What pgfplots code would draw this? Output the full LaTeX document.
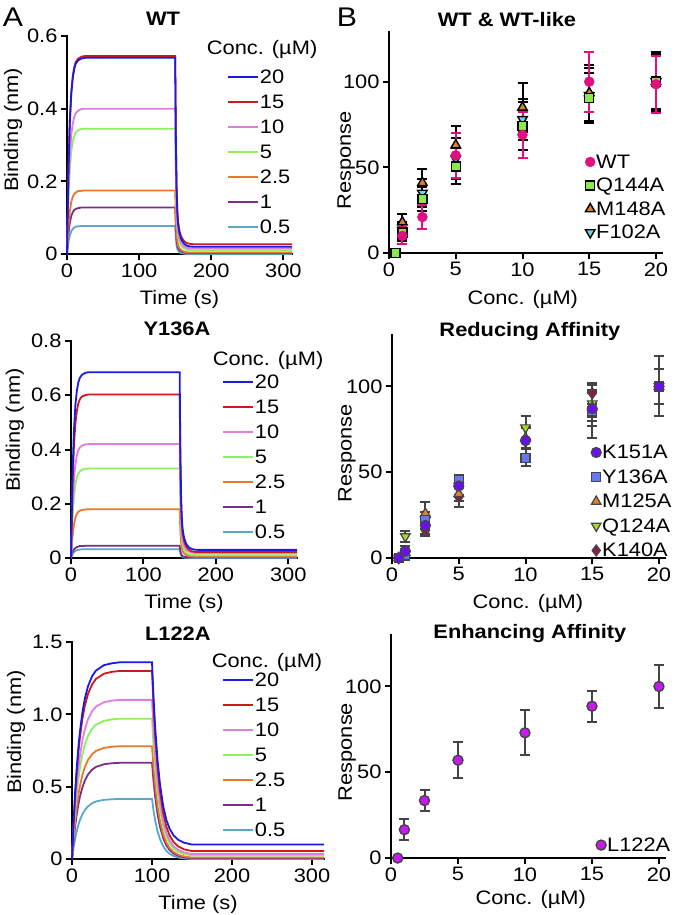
\documentclass[border=0pt]{standalone}
\usepackage{pgfplots}
\pgfplotsset{compat=1.18}
\usepackage{pgfplotstable}
\usepackage{fontspec}
\setmainfont{Liberation Sans}[FakeStretch=1.12]
\newcommand{\fs}{\fontsize{19.5}{22}\selectfont}

\definecolor{c20}{HTML}{1A1AE6}
\definecolor{c15}{HTML}{CC1A1A}
\definecolor{c10}{HTML}{E07EE0}
\definecolor{c5}{HTML}{8CF05A}
\definecolor{c25}{HTML}{E8782A}
\definecolor{c1}{HTML}{7A2E8C}
\definecolor{c05}{HTML}{5AA8C8}
\definecolor{wt}{HTML}{E0107E}
\definecolor{q144}{HTML}{8EE84A}
\definecolor{m148}{HTML}{D4822E}
\definecolor{f102}{HTML}{6AD8E8}
\definecolor{k151}{HTML}{6A10F0}
\definecolor{y136}{HTML}{6878F4}
\definecolor{m125}{HTML}{E0842E}
\definecolor{q124}{HTML}{A8D82A}
\definecolor{k140}{HTML}{8A1E4E}
\definecolor{l122}{HTML}{C81AF0}
\definecolor{eg}{HTML}{444444}

\pgfplotstableread{
t c20 c15 c10 c5 c25 c1 c05
0 0 0 0 0 0 0 0
2 0.235 0.237 0.174 0.150 0.076 0.056 0.033
4 0.367 0.371 0.272 0.235 0.119 0.087 0.052
6 0.443 0.447 0.328 0.283 0.144 0.105 0.063
8 0.485 0.489 0.359 0.310 0.157 0.115 0.069
10 0.509 0.514 0.377 0.325 0.165 0.121 0.073
12 0.523 0.528 0.387 0.334 0.169 0.124 0.075
15 0.532 0.537 0.394 0.340 0.173 0.126 0.076
20 0.538 0.543 0.399 0.344 0.174 0.128 0.077
25 0.540 0.545 0.400 0.345 0.175 0.128 0.077
150 0.540 0.545 0.400 0.345 0.175 0.128 0.077
151 0.306 0.312 0.227 0.194 0.098 0.071 0.042
152 0.176 0.182 0.131 0.110 0.055 0.040 0.023
153 0.114 0.120 0.084 0.070 0.035 0.025 0.014
154 0.082 0.089 0.061 0.050 0.025 0.017 0.009
156 0.056 0.063 0.042 0.033 0.016 0.011 0.005
158 0.043 0.050 0.032 0.025 0.012 0.008 0.003
160 0.035 0.042 0.026 0.019 0.009 0.006 0.002
163 0.027 0.034 0.020 0.015 0.006 0.004 0.001
166 0.023 0.030 0.017 0.012 0.005 0.003 0
170 0.021 0.028 0.016 0.011 0.004 0.002 0
175 0.020 0.027 0.015 0.010 0.004 0.002 0
312 0.020 0.027 0.015 0.010 0.004 0.002 0
}\wtdata

\pgfplotstableread{
t c20 c15 c10 c5 c25 c1 c05
0 0 0 0 0 0 0 0
2 0.298 0.262 0.183 0.144 0.078 0.020 0.014
4 0.466 0.410 0.286 0.224 0.122 0.031 0.022
6 0.562 0.494 0.344 0.271 0.148 0.037 0.026
8 0.615 0.541 0.377 0.296 0.162 0.040 0.029
10 0.646 0.569 0.396 0.311 0.170 0.042 0.030
12 0.663 0.584 0.407 0.319 0.174 0.044 0.031
15 0.675 0.595 0.414 0.325 0.177 0.044 0.032
20 0.683 0.601 0.419 0.329 0.179 0.045 0.032
25 0.685 0.603 0.420 0.330 0.180 0.045 0.032
150 0.685 0.603 0.420 0.330 0.180 0.045 0.032
151 0.390 0.342 0.239 0.186 0.101 0.026 0.018
152 0.227 0.196 0.139 0.106 0.058 0.015 0.010
153 0.148 0.127 0.090 0.068 0.037 0.010 0.006
154 0.109 0.092 0.066 0.048 0.026 0.007 0.004
156 0.076 0.063 0.046 0.032 0.017 0.005 0.002
158 0.059 0.048 0.036 0.024 0.013 0.004 0.001
160 0.048 0.038 0.029 0.019 0.010 0.003 0.001
163 0.039 0.030 0.024 0.014 0.007 0.002 0
166 0.034 0.025 0.020 0.012 0.006 0.002 0
170 0.031 0.023 0.019 0.011 0.005 0.002 0
175 0.030 0.022 0.018 0.010 0.005 0.002 0
312 0.030 0.022 0.018 0.010 0.005 0.002 0
}\ydata

\pgfplotstableread{
t c20 c15 c10 c5 c25 c1 c05
0 0 0 0 0 0 0 0
2 0.258 0.247 0.209 0.184 0.148 0.126 0.079
4 0.468 0.447 0.378 0.334 0.268 0.229 0.143
6 0.636 0.608 0.515 0.454 0.365 0.311 0.194
8 0.774 0.740 0.626 0.552 0.444 0.378 0.236
10 0.885 0.846 0.716 0.631 0.508 0.433 0.270
13 1.013 0.969 0.820 0.723 0.581 0.495 0.309
16 1.107 1.058 0.895 0.790 0.635 0.541 0.338
20 1.194 1.141 0.966 0.852 0.685 0.584 0.364
25 1.262 1.206 1.021 0.900 0.724 0.617 0.385
30 1.303 1.245 1.054 0.929 0.747 0.637 0.398
40 1.340 1.281 1.084 0.955 0.768 0.655 0.409
50 1.353 1.294 1.095 0.965 0.776 0.662 0.413
60 1.360 1.300 1.100 0.970 0.780 0.665 0.415
100 1.360 1.300 1.100 0.970 0.780 0.665 0.415
101 1.234 1.176 0.994 0.876 0.703 0.599 0.374
102 1.108 1.051 0.887 0.781 0.626 0.533 0.332
104 0.906 0.852 0.717 0.630 0.503 0.427 0.266
107 0.680 0.628 0.525 0.460 0.364 0.309 0.191
110 0.516 0.466 0.386 0.337 0.264 0.223 0.137
114 0.365 0.316 0.259 0.223 0.172 0.144 0.087
118 0.270 0.223 0.179 0.153 0.114 0.094 0.056
122 0.210 0.163 0.128 0.107 0.077 0.062 0.036
127 0.163 0.117 0.088 0.072 0.049 0.038 0.021
133 0.132 0.086 0.062 0.049 0.029 0.022 0.010
140 0.113 0.067 0.046 0.034 0.018 0.012 0.004
150 0.100 0.055 0.035 0.025 0.010 0.005 0
315 0.100 0.055 0.035 0.025 0.010 0.005 0
}\ldata

\pgfplotsset{
  base/.style={
    scale only axis, clip=false,
    axis lines=left, axis line style={-, line width=2.2pt, line cap=rect},
    tick align=outside, major tick length=6pt,
    every tick/.style={black, line width=2pt},
    tick label style={font=\fs},
    label style={font=\fs},
    /pgf/number format/assume math mode=true,
    title style={font=\bfseries\fs, anchor=center},
    legend style={draw=none, fill=none, inner sep=0pt, font=\fs, anchor=north west, legend cell align=left},
  },
  Astyle/.style={base, xmin=0, xtick={0,100,200,300},
    xlabel={Time (s)}, ylabel={Binding (nm)},
    xlabel style={at={(axis description cs:0.5,-0.21)}, anchor=center},
    legend image code/.code={\draw[##1] (0pt,0pt) -- (30pt,0pt);},
    legend style={nodes={inner xsep=1pt, inner ysep=0pt, text height=19pt, text depth=6pt}},
  },
  Bstyle/.style={base, xmin=0, xmax=20.45, ymin=0, xtick={0,5,10,15,20}, ytick={0,50,100},
    xlabel={Conc. (µM)}, ylabel={Response},
    legend image code/.code={\draw[##1] plot coordinates {(6pt,0pt)};},
    reverse legend,
  },
  lw/.style={line width=1.8pt},
}

\newcommand{\curves}[1]{%
  \addplot[c05,lw,forget plot] table[x=t,y=c05]{#1};
  \addplot[c1,lw,forget plot] table[x=t,y=c1]{#1};
  \addplot[c25,lw,forget plot] table[x=t,y=c25]{#1};
  \addplot[c5,lw,forget plot] table[x=t,y=c5]{#1};
  \addplot[c10,lw,forget plot] table[x=t,y=c10]{#1};
  \addplot[c15,lw,forget plot] table[x=t,y=c15]{#1};
  \addplot[c20,lw,forget plot] table[x=t,y=c20]{#1};
  \addlegendimage{c20,lw}\addlegendentry{20}
  \addlegendimage{c15,lw}\addlegendentry{15}
  \addlegendimage{c10,lw}\addlegendentry{10}
  \addlegendimage{c5,lw}\addlegendentry{5}
  \addlegendimage{c25,lw}\addlegendentry{2.5}
  \addlegendimage{c1,lw}\addlegendentry{1}
  \addlegendimage{c05,lw}\addlegendentry{0.5}
}

\begin{document}
\begin{tikzpicture}
\useasboundingbox[fill=white] (0pt,0pt) rectangle (680pt,-915pt);
\node[font=\fontsize{27}{27}\selectfont] at (13pt,-17pt) {A};
\node[font=\fontsize{27}{27}\selectfont] at (347pt,-17pt) {B};

% ---------- A1 WT ----------
\begin{axis}[Astyle, at={(67pt,-254pt)}, anchor=south west, width=225pt, height=218pt,
  xmax=312, ymin=0, ymax=0.6, ytick={0,0.2,0.4,0.6}, yticklabels={0,0.2,0.4,0.6},
  title={WT}, title style={at={(axis description cs:0.427,1.05)}},
  ylabel style={at={(axis description cs:-0.24,0.57)}, anchor=center},
  legend style={at={(axis description cs:0.711,0.869)}}]
\curves{\wtdata}
\node[font=\fs] at (axis description cs:0.867,0.936) {Conc. (µM)};
\end{axis}

% ---------- A2 Y136A ----------
\begin{axis}[Astyle, at={(71pt,-558pt)}, anchor=south west, width=226pt, height=217pt,
  xmax=312, ymin=0, ymax=0.8, ytick={0,0.2,0.4,0.6,0.8}, yticklabels={0,0.2,0.4,0.6,0.8},
  title={Y136A}, title style={at={(axis description cs:0.469,1.028)}},
  ylabel style={at={(axis description cs:-0.248,0.59)}, anchor=center},
  legend style={at={(axis description cs:0.668,0.869)}}]
\curves{\ydata}
\node[font=\fs] at (axis description cs:0.872,0.912) {Conc. (µM)};
\end{axis}

% ---------- A3 L122A ----------
\begin{axis}[Astyle, at={(72pt,-859pt)}, anchor=south west, width=252pt, height=217pt,
  xmax=315, ymin=0, ymax=1.5, ytick={0,0.5,1,1.5}, yticklabels={0,0.5,1.0,1.5},
  title={L122A}, title style={at={(axis description cs:0.42,1.009)}},
  ylabel style={at={(axis description cs:-0.222,0.585)}, anchor=center},
  legend style={at={(axis description cs:0.595,0.882)}}]
\curves{\ldata}
\node[font=\fs] at (axis description cs:0.774,0.908) {Conc. (µM)};
\end{axis}

% ---------- B1 ----------
\begin{axis}[Bstyle, at={(389pt,-253pt)}, anchor=south west, width=273pt, height=221pt,
  ymax=129,
  title={WT \& WT-like}, title style={at={(axis description cs:0.432,1.03)}},
  xlabel style={at={(axis description cs:0.49,-0.21)}, anchor=center},
  ylabel style={at={(axis description cs:-0.157,0.42)}, anchor=center},
  legend style={at={(axis description cs:0.718,0.466)}, nodes={inner xsep=1pt, inner ysep=0pt, text height=18.25pt, text depth=5.25pt}}]
\addplot[black, only marks, mark=triangle*, mark size=5.5pt, mark options={fill=f102, draw=black, line width=1.4pt, rotate=180},
  error bars/.cd, y dir=both, y explicit, error bar style={line width=2pt}, error mark options={rotate=90, mark size=5pt, line width=2pt}]
  coordinates {(1,13) +- (0,5) (2.5,35) +- (0,8) (5,55) +- (0,12) (10,78) +- (0,12) (15,92) +- (0,16) (20,100) +- (0,17)};
\addlegendentry{F102A}
\addplot[black, only marks, mark=triangle*, mark size=5.5pt, mark options={fill=m148, draw=black, line width=1.4pt},
  error bars/.cd, y dir=both, y explicit, error bar style={line width=2pt}, error mark options={rotate=90, mark size=5pt, line width=2pt}]
  coordinates {(1,18) +- (0,5) (2.5,41) +- (0,8) (5,63) +- (0,11) (10,85) +- (0,14.5) (15,93.5) +- (0,16.5) (20,100) +- (0,17.5)};
\addlegendentry{M148A}
\addplot[black, only marks, mark=square*, mark size=4.5pt, mark options={fill=q144, draw=black, line width=1.4pt},
  error bars/.cd, y dir=both, y explicit, error bar style={line width=2pt}, error mark options={rotate=90, mark size=5pt, line width=2pt}]
  coordinates {(0.5,0) +- (0,0) (1,12) +- (0,5) (2.5,31.5) +- (0,7) (5,50.5) +- (0,10.5) (10,74) +- (0,14) (15,90.5) +- (0,14.5) (20,100) +- (0,16)};
\addlegendentry{Q144A}
\addplot[wt, only marks, mark=*, mark size=5pt, mark options={fill=wt, draw=wt},
  error bars/.cd, y dir=both, y explicit, error bar style={line width=2pt}, error mark options={rotate=90, mark size=5pt, line width=2pt}]
  coordinates {(1,10) +- (0,5) (2.5,21) +- (0,7) (5,57) +- (0,13) (10,69) +- (0,13.5) (15,100) +- (0,17.5) (20,98.5) +- (0,16.5)};
\addlegendentry{WT}
\end{axis}

% ---------- B2 ----------
\begin{axis}[Bstyle, at={(392pt,-558pt)}, anchor=south west, width=273pt, height=223pt,
  ymax=130,
  title={Reducing Affinity}, title style={at={(axis description cs:0.505,0.987)}},
  xlabel style={at={(axis description cs:0.498,-0.205)}, anchor=center},
  ylabel style={at={(axis description cs:-0.165,0.47)}, anchor=center},
  legend style={at={(axis description cs:0.729,0.529)}, nodes={inner xsep=1pt, inner ysep=0pt, text height=18.75pt, text depth=5.75pt}}]
\addplot[eg, only marks, mark=diamond*, mark size=5.5pt, mark options={fill=k140, draw=eg, line width=1.2pt},
  error bars/.cd, y dir=both, y explicit, error bar style={line width=2pt}, error mark options={rotate=90, mark size=5pt, line width=2pt}]
  coordinates {(0.5,0) +- (0,0) (1,2) +- (0,2) (2.5,16) +- (0,3) (5,35.5) +- (0,5.5) (10,68) +- (0,8) (15,96) +- (0,6) (20,100) +- (0,10)};
\addlegendentry{K140A}
\addplot[eg, only marks, mark=triangle*, mark size=5.5pt, mark options={fill=q124, draw=eg, line width=1.2pt, rotate=180},
  error bars/.cd, y dir=both, y explicit, error bar style={line width=2pt}, error mark options={rotate=90, mark size=5pt, line width=2pt}]
  coordinates {(0.5,0) +- (0,0) (1,12.5) +- (0,3) (2.5,22) +- (0,5) (5,42) +- (0,5) (10,76) +- (0,6.5) (15,90) +- (0,8) (20,100) +- (0,10)};
\addlegendentry{Q124A}
\addplot[eg, only marks, mark=triangle*, mark size=5.5pt, mark options={fill=m125, draw=eg, line width=1.2pt},
  error bars/.cd, y dir=both, y explicit, error bar style={line width=2pt}, error mark options={rotate=90, mark size=5pt, line width=2pt}]
  coordinates {(0.5,0) +- (0,0) (1,3) +- (0,2) (2.5,26) +- (0,6.5) (5,37.5) +- (0,4) (10,70) +- (0,6) (15,88) +- (0,8) (20,100) +- (0,10)};
\addlegendentry{M125A}
\addplot[eg, only marks, mark=square*, mark size=4.5pt, mark options={fill=y136, draw=eg, line width=1.2pt},
  error bars/.cd, y dir=both, y explicit, error bar style={line width=2pt}, error mark options={rotate=90, mark size=5pt, line width=2pt}]
  coordinates {(0.5,0) +- (0,0) (1,1.5) +- (0,2) (2.5,22) +- (0,5) (5,45.5) +- (0,3) (10,58.5) +- (0,5) (15,85.5) +- (0,15.5) (20,100) +- (0,10)};
\addlegendentry{Y136A}
\addplot[eg, only marks, mark=*, mark size=5pt, mark options={fill=k151, draw=eg, line width=1.2pt},
  error bars/.cd, y dir=both, y explicit, error bar style={line width=2pt}, error mark options={rotate=90, mark size=5pt, line width=2pt}]
  coordinates {(0.5,0) +- (0,0) (1,4) +- (0,3) (2.5,19) +- (0,5) (5,42) +- (0,6) (10,68.5) +- (0,8) (15,87) +- (0,10) (20,100) +- (0,17.5)};
\addlegendentry{K151A}
\end{axis}

% ---------- B3 ----------
\begin{axis}[Bstyle, at={(391pt,-858pt)}, anchor=south west, width=274pt, height=223pt,
  ymax=130,
  title={Enhancing Affinity}, title style={at={(axis description cs:0.507,0.978)}},
  xlabel style={at={(axis description cs:0.51,-0.185)}, anchor=center},
  ylabel style={at={(axis description cs:-0.16,0.475)}, anchor=center},
  legend style={at={(axis description cs:0.748,0.058)}, anchor=west, nodes={inner xsep=1pt, inner ysep=0pt, text height=18pt, text depth=5pt}}]
\addplot[eg, only marks, mark=*, mark size=5pt, mark options={fill=l122, draw=eg, line width=1.4pt},
  error bars/.cd, y dir=both, y explicit, error bar style={line width=2pt}, error mark options={rotate=90, mark size=5pt, line width=2pt}]
  coordinates {(0.5,0) +- (0,0) (1,16.5) +- (0,6) (2.5,33.5) +- (0,6) (5,57) +- (0,10.5) (10,73) +- (0,13) (15,88.5) +- (0,9) (20,100) +- (0,12.5)};
\addlegendentry{L122A}
\end{axis}
\end{tikzpicture}
\end{document}
